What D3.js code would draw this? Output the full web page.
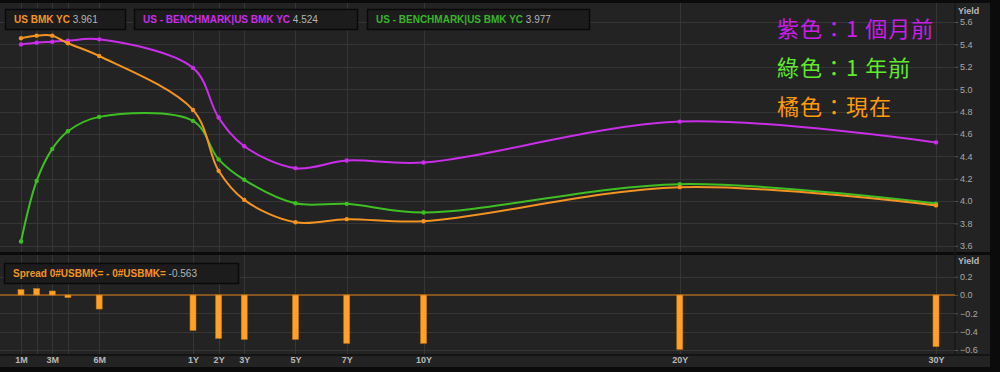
<!DOCTYPE html>
<html>
<head>
<meta charset="utf-8">
<script src="https://cdn.jsdelivr.net/npm/d3@7"></script>
<style>
  body { margin: 0; background: #000; }
  svg { display: block; }
</style>
</head>
<body>
<div id="chart"></div>
<script>
// maturities on the x axis (in years)
var tenors = ["1M", "2M", "3M", "4M", "6M", "1Y", "2Y", "3Y", "5Y", "7Y", "10Y", "20Y", "30Y"];
var tenorYears = [1/12, 2/12, 3/12, 4/12, 0.5, 1, 2, 3, 5, 7, 10, 20, 30];
var xLabels = ["1M", "3M", "6M", "1Y", "2Y", "3Y", "5Y", "7Y", "10Y", "20Y", "30Y"];

// yields
var nowYield = [5.455, 5.478, 5.478, 5.41, 5.296, 4.814, 4.27, 4.01, 3.81, 3.838, 3.82, 4.124, 3.961];
var monthAgoYield = [5.40, 5.415, 5.424, 5.433, 5.445, 5.19, 4.746, 4.49, 4.294, 4.362, 4.344, 4.71, 4.524];
var yearAgoYield = [3.638, 4.18, 4.466, 4.624, 4.752, 4.716, 4.372, 4.19, 3.98, 3.975, 3.897, 4.151, 3.977];

// spread bars (now - 1 month ago)
var spread = [0.059, 0.07, 0.044, -0.028, -0.153, -0.386, -0.473, -0.484, -0.484, -0.527, -0.527, -0.593, -0.563];

var topTicks = [3.6, 3.8, 4.0, 4.2, 4.4, 4.6, 4.8, 5.0, 5.2, 5.4, 5.6];
var botTicks = [-0.6, -0.4, -0.2, 0.0, 0.2];

var orange = "#f39422";
var purple = "#c92ee8";
var green = "#3fbf24";

function init() {
    var width = 1000, height = 372;
    var plotRight = 955;

    var svg = d3.select("#chart")
        .append("svg")
        .attr("width", width)
        .attr("height", height)
        .style("font-family", "'Liberation Sans', Arial, sans-serif");

    svg.append("rect").attr("width", width).attr("height", height).attr("fill", "#0b0b0b");

    // panels
    svg.append("rect").attr("x", 0).attr("y", 3).attr("width", 990).attr("height", 249).attr("fill", "#232323");
    svg.append("rect").attr("x", 0).attr("y", 255).attr("width", 990).attr("height", 112).attr("fill", "#232323");
    svg.append("line").attr("x1", 0).attr("x2", 990).attr("y1", 355).attr("y2", 355)
        .attr("stroke", "#141414").attr("stroke-width", 2);
    svg.append("line").attr("x1", plotRight).attr("x2", plotRight).attr("y1", 3).attr("y2", 355)
        .attr("stroke", "#181818").attr("stroke-width", 1.5);

    var x = d3.scaleLinear().domain([1/12, 1, 30]).range([21, 193, 936]);
    var yTop = d3.scaleLinear().domain([3.6, 5.6]).range([245.8, 22]);
    var yBot = d3.scaleLinear().domain([-0.6, 0.2]).range([350, 276.7]);

    // grid
    var grid = svg.append("g").attr("stroke", "#363636").attr("stroke-width", 1);
    grid.selectAll(".hgTop").data(topTicks).enter().append("line")
        .attr("x1", 0).attr("x2", plotRight)
        .attr("y1", d => Math.round(yTop(d)) + 0.5).attr("y2", d => Math.round(yTop(d)) + 0.5);
    grid.selectAll(".hgBot").data(botTicks.filter(d => d != 0)).enter().append("line")
        .attr("x1", 0).attr("x2", plotRight)
        .attr("y1", d => Math.round(yBot(d)) + 0.5).attr("y2", d => Math.round(yBot(d)) + 0.5);
    grid.selectAll(".vg").data(tenorYears).enter().append("line")
        .attr("x1", d => Math.round(x(d)) + 0.5).attr("x2", d => Math.round(x(d)) + 0.5)
        .attr("y1", 3).attr("y2", 252);
    grid.selectAll(".vg2").data(tenorYears).enter().append("line")
        .attr("x1", d => Math.round(x(d)) + 0.5).attr("x2", d => Math.round(x(d)) + 0.5)
        .attr("y1", 255).attr("y2", 354);

    // right axes
    var topAxis = d3.axisRight(yTop).tickValues(topTicks).tickFormat(d3.format(".1f")).tickSize(3);
    var gTop = svg.append("g").attr("transform", `translate(${plotRight},0)`).call(topAxis);
    var botAxis = d3.axisRight(yBot).tickValues(botTicks).tickFormat(d3.format(".1f")).tickSize(3);
    var gBot = svg.append("g").attr("transform", `translate(${plotRight},0)`).call(botAxis);
    [gTop, gBot].forEach(g => {
        g.select(".domain").remove();
        g.selectAll("line").attr("stroke", "#555");
        g.selectAll("text").attr("fill", "#a8a8a8").attr("font-size", 9)
            .attr("font-family", "'Liberation Sans', Arial, sans-serif").attr("x", 5);
    });
    svg.append("text").attr("x", 958).attr("y", 14).text("Yield")
        .attr("fill", "#b8b8b8").attr("font-size", 9).attr("font-weight", "bold");
    svg.append("text").attr("x", 958).attr("y", 264).text("Yield")
        .attr("fill", "#b8b8b8").attr("font-size", 9).attr("font-weight", "bold");

    // x axis labels
    var xAxis = d3.axisBottom(x)
        .tickValues(xLabels.map(l => tenorYears[tenors.indexOf(l)]))
        .tickFormat(d => tenors[tenorYears.indexOf(d)])
        .tickSize(0);
    var gX = svg.append("g").attr("transform", "translate(0,355)").call(xAxis);
    gX.select(".domain").remove();
    gX.selectAll("text").attr("fill", "#b8b8b8").attr("font-size", 9).attr("font-weight", "bold")
        .attr("font-family", "'Liberation Sans', Arial, sans-serif").attr("dy", "0.6em");

    // curves
    var series = [
        {values: yearAgoYield, color: green},
        {values: monthAgoYield, color: purple},
        {values: nowYield, color: orange}
    ];
    var line = d3.line()
        .x((d, i) => x(tenorYears[i]))
        .y(d => yTop(d))
        .curve(d3.curveCatmullRom.alpha(0.5));

    series.forEach(s => {
        svg.append("path")
            .datum(s.values)
            .attr("d", line)
            .attr("fill", "none")
            .attr("stroke", s.color)
            .attr("stroke-width", 2);
        svg.selectAll(null)
            .data(s.values)
            .enter()
            .append("circle")
            .attr("cx", (d, i) => x(tenorYears[i]))
            .attr("cy", d => yTop(d))
            .attr("r", 2.2)
            .attr("fill", s.color);
    });

    // spread bars
    svg.append("line").attr("x1", 0).attr("x2", plotRight)
        .attr("y1", yBot(0)).attr("y2", yBot(0))
        .attr("stroke", "#a8661f").attr("stroke-width", 1.5);
    svg.selectAll(".bar")
        .data(spread)
        .enter()
        .append("rect")
        .attr("x", (d, i) => x(tenorYears[i]) - 3)
        .attr("y", d => Math.min(yBot(d), yBot(0)))
        .attr("width", 6)
        .attr("height", d => Math.abs(yBot(d) - yBot(0)))
        .attr("fill", "#ffa126")
        .attr("stroke", "#c77714")
        .attr("stroke-width", 0.6);

    // legend boxes
    function legendBox(x0, y0, w, label, value, color) {
        svg.append("rect").attr("x", x0 + 0.5).attr("y", y0 + 0.5).attr("width", w).attr("height", 20)
            .attr("fill", "#1c1c1c").attr("stroke", "#0a0a0a").attr("stroke-width", 1.5);
        var t = svg.append("text").attr("x", x0 + 9).attr("y", y0 + 14).attr("font-size", 10).attr("font-weight", "bold");
        t.append("tspan").attr("fill", color).text(label + " ");
        t.append("tspan").attr("fill", "#b4b4b4").attr("font-weight", "normal").text(value);
    }
    legendBox(5, 9, 120, "US BMK YC", "3.961", orange);
    legendBox(134, 9, 223, "US - BENCHMARK|US BMK YC", "4.524", purple);
    legendBox(367, 9, 222, "US - BENCHMARK|US BMK YC", "3.977", "#39b52a");
    legendBox(4, 263, 234, "Spread 0#USBMK= - 0#USBMK=", "-0.563", orange);

    // annotations
    var notes = [
        {text: "紫色：1 個月前", color: "#c81ee8", y: 37},
        {text: "綠色：1 年前", color: "#5fea2c", y: 76},
        {text: "橘色：現在", color: "#ff9a0a", y: 115}
    ];
    svg.selectAll(".note")
        .data(notes)
        .enter()
        .append("text")
        .attr("x", 777)
        .attr("y", d => d.y)
        .attr("fill", d => d.color)
        .attr("font-size", 22)
        .attr("letter-spacing", 1)
        .attr("font-family", "'Noto Sans CJK TC', sans-serif")
        .text(d => d.text);
}
window.addEventListener('load', init, false);
</script>
</body>
</html>
